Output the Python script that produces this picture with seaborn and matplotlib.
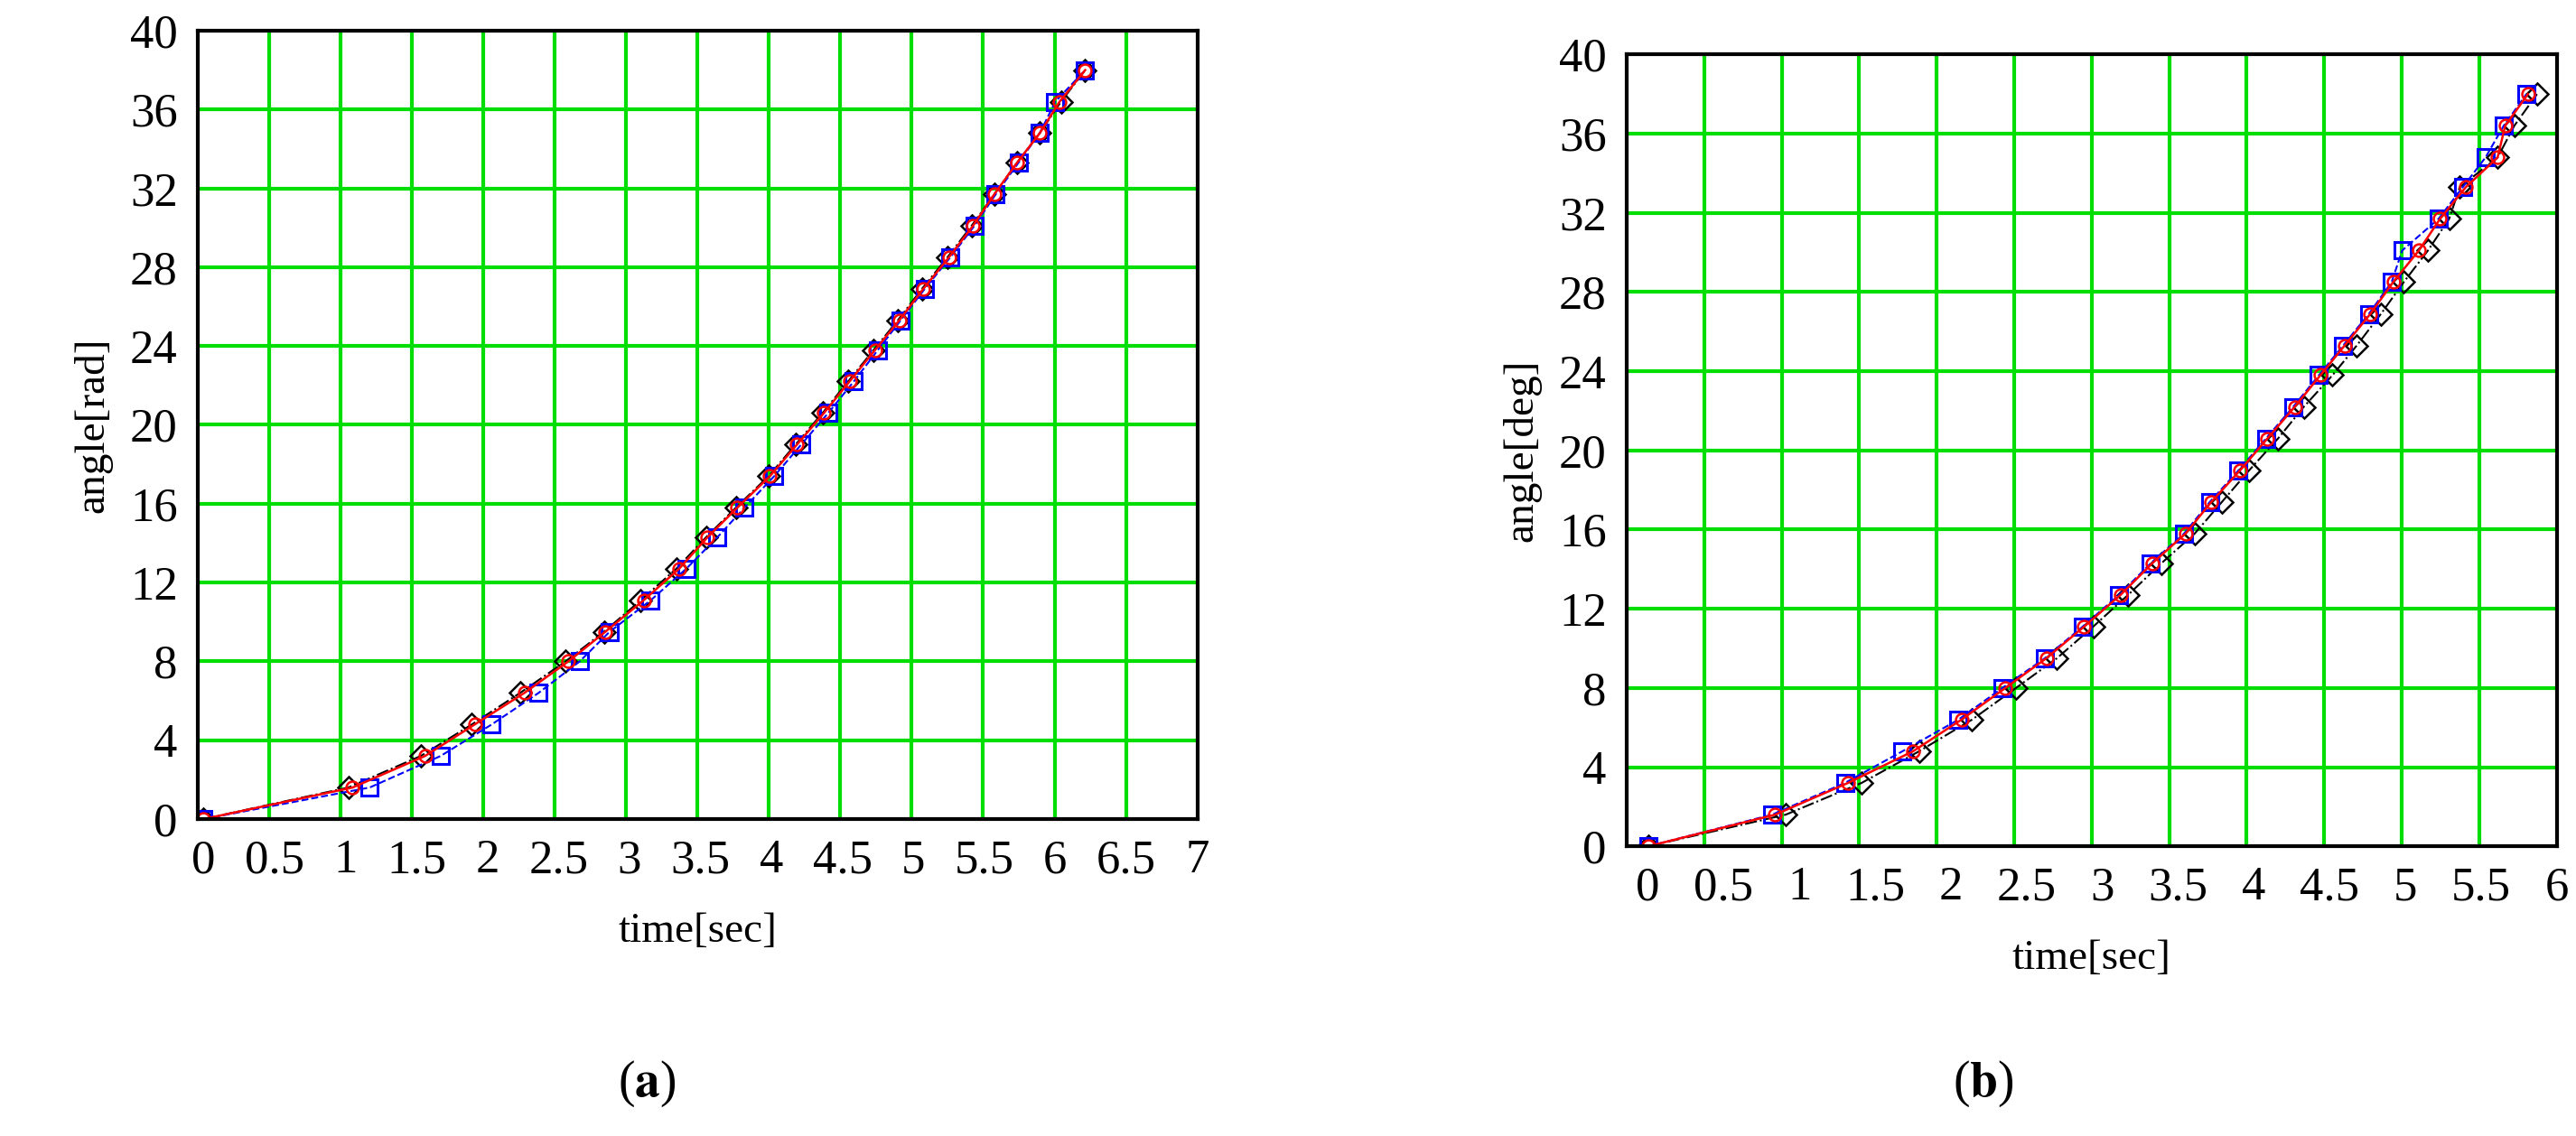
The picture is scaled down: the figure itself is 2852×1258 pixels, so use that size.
import matplotlib
matplotlib.use("Agg")
import matplotlib.pyplot as plt
import numpy as np
import seaborn as sns

# angle levels shared by all series
angle = [0, 1.6, 3.2, 4.8, 6.4, 8.0, 9.5, 11.1, 12.7, 14.3, 15.8, 17.4, 19.0, 20.6,
         22.2, 23.8, 25.3, 26.9, 28.5, 30.1, 31.7, 33.3, 34.8, 36.4, 38.0]

# panel (a)
t_a_red = [0, 1.05, 1.56, 1.91, 2.26, 2.57, 2.83, 3.10, 3.35, 3.55, 3.76, 3.99, 4.18, 4.37,
           4.55, 4.73, 4.90, 5.07, 5.25, 5.42, 5.57, 5.73, 5.89, 6.03, 6.21]
t_a_blue = [0, 1.17, 1.67, 2.03, 2.36, 2.65, 2.86, 3.15, 3.40, 3.62, 3.81, 4.02, 4.21, 4.40,
            4.58, 4.75, 4.91, 5.08, 5.26, 5.43, 5.58, 5.74, 5.89, 6.00, 6.21]
t_a_black = [0, 1.02, 1.53, 1.89, 2.23, 2.55, 2.82, 3.08, 3.33, 3.54, 3.75, 3.98, 4.17, 4.36,
             4.54, 4.72, 4.89, 5.06, 5.24, 5.41, 5.57, 5.73, 5.89, 6.04, 6.21]

# panel (b)
t_b_red = [0, 0.84, 1.32, 1.75, 2.07, 2.36, 2.63, 2.88, 3.12, 3.33, 3.55, 3.72, 3.91, 4.09,
           4.27, 4.44, 4.60, 4.77, 4.92, 5.09, 5.23, 5.40, 5.61, 5.66, 5.81]
t_b_blue = [0, 0.82, 1.30, 1.68, 2.05, 2.34, 2.62, 2.87, 3.11, 3.32, 3.54, 3.71, 3.90, 4.08,
            4.26, 4.43, 4.59, 4.76, 4.91, 4.98, 5.22, 5.38, 5.53, 5.65, 5.80]
t_b_black = [0, 0.91, 1.41, 1.79, 2.14, 2.43, 2.70, 2.94, 3.17, 3.39, 3.61, 3.79, 3.97, 4.16,
             4.33, 4.52, 4.68, 4.84, 4.99, 5.15, 5.29, 5.36, 5.61, 5.72, 5.87]

plt.rcParams['font.family'] = ['Liberation Serif', 'DejaVu Serif']
plt.rcParams['mathtext.fontset'] = 'stix'

fig = plt.figure(figsize=(28.52, 12.58), dpi=100)
ax_a = fig.add_axes([0.0768, 0.279, 0.388, 0.694])
ax_b = fig.add_axes([0.6315, 0.255, 0.361, 0.697])


def draw(ax, tr, tb, tk, xmin, xmax, ncells, ylabel, xt):
    # grid cells in the Mathcad plot are not aligned with the tick labels
    for k in range(1, ncells):
        ax.axvline(xmin + k * (xmax - xmin) / ncells, color='#00dd00', lw=3, zorder=0)
    for yv in range(4, 40, 4):
        ax.axhline(yv, color='#00dd00', lw=3, zorder=0)
    sns.lineplot(x=tk, y=angle, ax=ax, color='black', linestyle='-.', lw=1.5,
                 marker='D', markersize=12, markerfacecolor='none', markeredgecolor='black',
                 markeredgewidth=1.8, sort=False)
    sns.lineplot(x=tb, y=angle, ax=ax, color='blue', linestyle='--', lw=1.5,
                 marker='s', markersize=13, markerfacecolor='none', markeredgecolor='blue',
                 markeredgewidth=2.2, sort=False)
    sns.lineplot(x=tr, y=angle, ax=ax, color='red', linestyle='-', lw=1.8,
                 marker='o', markersize=10, markerfacecolor='none', markeredgecolor='red',
                 markeredgewidth=1.8, sort=False)
    ax.set_xlim(xmin, xmax)
    ax.set_ylim(0, 40)
    ax.set_xticks(xt)
    ax.set_xticklabels([f'{v:g}' for v in xt])
    ax.set_yticks(range(0, 41, 4))
    ax.tick_params(length=0, labelsize=38, pad=16)
    ax.set_xlabel('time[sec]', fontsize=34, labelpad=24)
    ax.set_ylabel(ylabel, fontsize=34, labelpad=14)
    for s in ax.spines.values():
        s.set_linewidth(3)
        s.set_color('black')


draw(ax_a, t_a_red, t_a_blue, t_a_black, -0.04, 7.0, 14, 'angle[rad]', np.arange(0, 7.01, 0.5))
draw(ax_b, t_b_red, t_b_blue, t_b_black, -0.14, 6.0, 12, 'angle[deg]', np.arange(0, 6.01, 0.5))

fig.text(0.251, 0.035, r'($\mathbf{a}$)', ha='center', fontsize=40)
fig.text(0.770, 0.035, r'($\mathbf{b}$)', ha='center', fontsize=40)

fig.savefig('out.png', dpi=100)
